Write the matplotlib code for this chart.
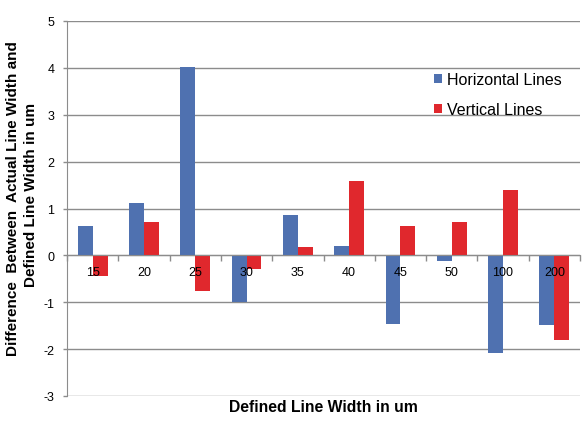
import matplotlib
matplotlib.use("Agg")
import matplotlib.pyplot as plt
import numpy as np

categories = ["15", "20", "25", "30", "35", "40", "45", "50", "100", "200"]
horizontal = [0.63, 1.11, 4.01, -1.0, 0.86, 0.2, -1.47, -0.12, -2.08, -1.48]
vertical = [-0.44, 0.72, -0.76, -0.3, 0.17, 1.59, 0.63, 0.72, 1.39, -1.80]
yticks = [-3, -2, -1, 0, 1, 2, 3, 4, 5]

plt.rcParams['font.family'] = ['Liberation Sans', 'DejaVu Sans']

fig = plt.figure(figsize=(5.86, 4.39), dpi=100)
ax = fig.add_axes([67/586, 1 - 397/439, (580-67)/586, (397-22)/439])

x = np.arange(len(categories))
w = 0.29
blue = "#4F71B0"
red = "#E0282D"
ax.bar(x - w/2, horizontal, width=w, color=blue, zorder=3, label="Horizontal Lines")
ax.bar(x + w/2, vertical, width=w, color=red, zorder=3, label="Vertical Lines")

ax.set_xlim(-0.5, len(categories) - 0.5)
ax.set_ylim(-3, 5)
ax.set_yticks(yticks)
ax.set_yticklabels([str(t) for t in yticks], fontsize=9)
ax.yaxis.grid(True, color="#8c8c8c", linewidth=1.0)
ax.yaxis.set_zorder(1)
ax.tick_params(axis='y', length=3, width=1, color="#8c8c8c", pad=6)

for s in ['top', 'right']:
    ax.spines[s].set_visible(False)
ax.spines['left'].set_color("#8c8c8c")
ax.spines['left'].set_zorder(4)
ax.spines['bottom'].set_position(('data', 0))
ax.spines['bottom'].set_color("#8c8c8c")
ax.spines['bottom'].set_zorder(4)

ax.set_xticks(x)
ax.set_xticklabels(categories, fontsize=9)
ax.set_xticks(np.arange(len(categories) + 1) - 0.5, minor=True)
ax.tick_params(axis='x', which='major', length=0, pad=8)
ax.tick_params(axis='x', which='minor', length=4, width=1, color="#8c8c8c")
ax.xaxis.set_zorder(5)

fig.text(323/586, 1 - 408/439, "Defined Line Width in um", fontsize=11.3, fontweight='bold',
         ha='center', va='center')
fig.text(13/586, 1 - 199/439, "Difference  Between  Actual Line Width and", fontsize=11,
         fontweight='bold', rotation=90, ha='center', va='center')
fig.text(31/586, 1 - 195/439, "Defined Line Width in um", fontsize=11,
         fontweight='bold', rotation=90, ha='center', va='center')

leg = ax.legend(loc='upper left', bbox_to_anchor=((434-67)/513, (397-73)/375), frameon=False,
                fontsize=11.5, handlelength=0.5, handleheight=0.5, handletextpad=0.3,
                labelspacing=0.95, borderpad=0, borderaxespad=0)

fig.savefig("out.png", dpi=100, facecolor="white")
